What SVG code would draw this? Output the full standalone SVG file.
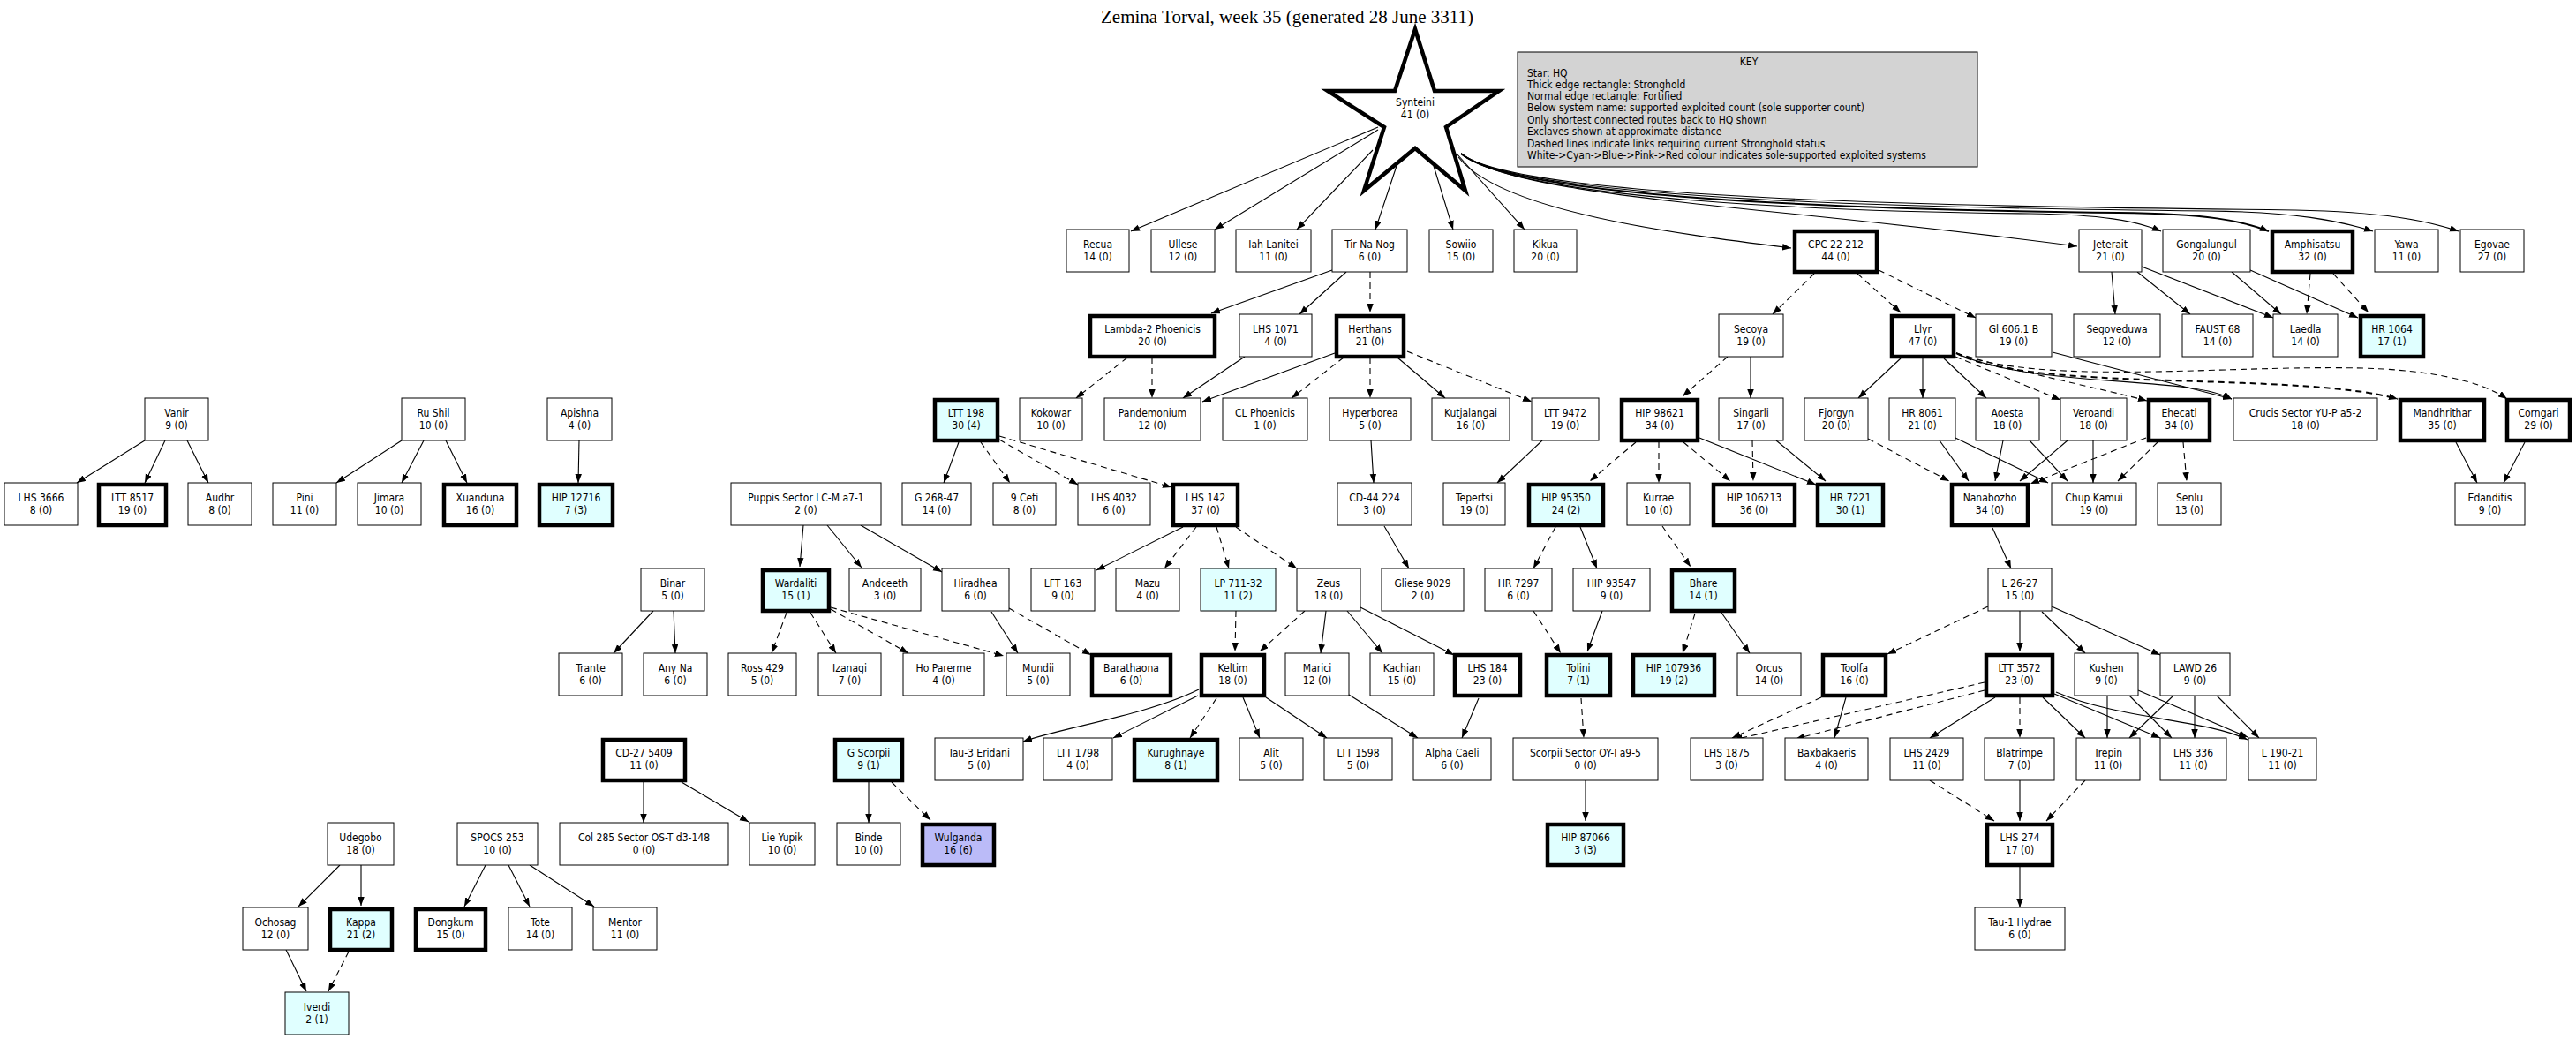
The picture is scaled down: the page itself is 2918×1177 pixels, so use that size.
<svg xmlns="http://www.w3.org/2000/svg" width="2918" height="1177" viewBox="0 0 2918 1177">
<style>
text{font-family:"DejaVu Sans Condensed","DejaVu Sans",sans-serif;font-stretch:condensed;font-size:12px;fill:#000}
.nm{text-anchor:middle}
rect.n{fill:#fff;stroke:#000;stroke-width:1}
rect.t{fill:#fff;stroke:#000;stroke-width:4.5}
rect.c{fill:#e0ffff}
rect.w{fill:#bbbbf8}
#edges line,#edges path{stroke:#000;stroke-width:1.1;fill:none;marker-end:url(#ah)}
#edges .d{stroke-dasharray:7,5}
.title{font-family:"Liberation Serif",serif;font-size:21px;text-anchor:middle;font-stretch:normal}
</style>
<defs>
<marker id="ah" markerUnits="userSpaceOnUse" markerWidth="11" markerHeight="8" refX="10" refY="3.75" orient="auto"><path d="M0,0 L10,3.75 L0,7.5 z" fill="#000"/></marker>
</defs>
<rect width="2918" height="1177" fill="#fff"/>
<text class="title" x="1458" y="26">Zemina Torval, week 35 (generated 28 June 3311)</text>
<g id="key">
<rect x="1719" y="59" width="521" height="130" fill="#d3d3d3" stroke="#000" stroke-width="1"/>
<text class="nm" x="1981" y="74">KEY</text>
<text x="1730" y="87">Star: HQ</text>
<text x="1730" y="100">Thick edge rectangle: Stronghold</text>
<text x="1730" y="113">Normal edge rectangle: Fortified</text>
<text x="1730" y="126">Below system name: supported exploited count (sole supporter count)</text>
<text x="1730" y="140">Only shortest connected routes back to HQ shown</text>
<text x="1730" y="153">Exclaves shown at approximate distance</text>
<text x="1730" y="167">Dashed lines indicate links requiring current Stronghold status</text>
<text x="1730" y="180">White-&gt;Cyan-&gt;Blue-&gt;Pink-&gt;Red colour indicates sole-supported exploited systems</text>
</g>
<g id="edges">
<line x1="1561" y1="144" x2="1281" y2="262"/>
<line x1="1561" y1="147" x2="1376" y2="260"/>
<line x1="1555" y1="170" x2="1469" y2="260"/>
<line x1="1582" y1="188" x2="1558" y2="260"/>
<line x1="1624" y1="188" x2="1646" y2="260"/>
<line x1="1650" y1="174" x2="1727" y2="260"/>
<path d="M1652,178 C1700,240 1900,265 2029,281"/>
<path d="M1655,174 C1720,225 2000,232 2353,279"/>
<path d="M1655,174 C1720,228 2100,240 2300,242 C2380,243 2420,250 2448,262"/>
<path d="M1655,174 C1720,228 2150,238 2400,241 C2500,242 2540,250 2570,262" style="stroke-width:2"/>
<path d="M1655,174 C1720,228 2200,236 2500,239 C2600,240 2650,250 2688,262"/>
<path d="M1655,174 C1720,228 2250,234 2600,238 C2700,240 2750,250 2785,262"/>
<line x1="1509" y1="306" x2="1372" y2="355"/>
<line x1="1525" y1="308" x2="1472" y2="356"/>
<line class="d" x1="1552" y1="308" x2="1552" y2="354"/>
<line class="d" x1="1277" y1="405" x2="1219" y2="451"/>
<line class="d" x1="1305" y1="405" x2="1305" y2="451"/>
<line x1="1410" y1="404" x2="1340" y2="451"/>
<line x1="1512" y1="400" x2="1362" y2="455"/>
<line class="d" x1="1522" y1="405" x2="1463" y2="451"/>
<line class="d" x1="1552" y1="405" x2="1552" y2="451"/>
<line x1="1583" y1="405" x2="1637" y2="451"/>
<line class="d" x1="1594" y1="398" x2="1735" y2="455"/>
<line x1="1086" y1="501" x2="1069" y2="547"/>
<line class="d" x1="1111" y1="501" x2="1144" y2="547"/>
<line class="d" x1="1132" y1="498" x2="1221" y2="549"/>
<line class="d" x1="1132" y1="494" x2="1327" y2="552"/>
<line x1="1553" y1="499" x2="1556" y2="547"/>
<line x1="1747" y1="499" x2="1696" y2="547"/>
<line class="d" x1="2055" y1="310" x2="2008" y2="356"/>
<line class="d" x1="2104" y1="310" x2="2153" y2="354"/>
<line class="d" x1="2128" y1="306" x2="2238" y2="360"/>
<line class="d" x1="1957" y1="404" x2="1906" y2="449"/>
<line x1="1983" y1="404" x2="1983" y2="451"/>
<line class="d" x1="1853" y1="501" x2="1801" y2="545"/>
<line class="d" x1="1879" y1="501" x2="1879" y2="547"/>
<line class="d" x1="1907" y1="501" x2="1960" y2="545"/>
<line x1="1925" y1="496" x2="2057" y2="549"/>
<line class="d" x1="1985" y1="499" x2="1986" y2="545"/>
<line x1="2012" y1="499" x2="2068" y2="545"/>
<line x1="2153" y1="406" x2="2105" y2="451"/>
<line x1="2178" y1="406" x2="2178" y2="451"/>
<line x1="2202" y1="406" x2="2250" y2="451"/>
<line class="d" x1="2215" y1="404" x2="2334" y2="453"/>
<path class="d" d="M2216,400 C2300,425 2380,440 2432,454"/>
<path d="M2216,400 C2300,440 2480,425 2528,452"/>
<path class="d" d="M2216,400 C2300,445 2600,420 2716,452" style="stroke-width:2"/>
<path class="d" d="M2216,400 C2320,440 2550,410 2700,418 C2780,423 2820,438 2840,452"/>
<line x1="2325" y1="399" x2="2528" y2="452"/>
<line x1="2392" y1="308" x2="2396" y2="356"/>
<line x1="2421" y1="308" x2="2481" y2="356"/>
<line x1="2426" y1="302" x2="2575" y2="360"/>
<line x1="2528" y1="308" x2="2584" y2="356"/>
<line x1="2549" y1="306" x2="2671" y2="360"/>
<line class="d" x1="2617" y1="310" x2="2613" y2="356"/>
<line class="d" x1="2643" y1="310" x2="2683" y2="354"/>
<line x1="2782" y1="501" x2="2806" y2="547"/>
<line x1="2860" y1="501" x2="2836" y2="547"/>
<line class="d" x1="2116" y1="497" x2="2208" y2="545"/>
<line x1="2197" y1="499" x2="2230" y2="545"/>
<line x1="2215" y1="496" x2="2320" y2="547"/>
<line x1="2269" y1="499" x2="2260" y2="545"/>
<line x1="2299" y1="499" x2="2342" y2="545"/>
<line x1="2342" y1="499" x2="2288" y2="545"/>
<line x1="2371" y1="499" x2="2371" y2="547"/>
<line class="d" x1="2431" y1="496" x2="2300" y2="548"/>
<line class="d" x1="2444" y1="501" x2="2399" y2="545"/>
<line class="d" x1="2473" y1="501" x2="2477" y2="545"/>
<line x1="2257" y1="598" x2="2278" y2="644"/>
<line class="d" x1="2252" y1="687" x2="2138" y2="741"/>
<line x1="2288" y1="692" x2="2288" y2="738"/>
<line x1="2313" y1="693" x2="2362" y2="740"/>
<line x1="2324" y1="687" x2="2447" y2="742"/>
<line class="d" x1="2063" y1="790" x2="1962" y2="836"/>
<line x1="2091" y1="790" x2="2078" y2="836"/>
<line class="d" x1="2248" y1="773" x2="1964" y2="838"/>
<line class="d" x1="2248" y1="782" x2="2034" y2="837"/>
<line x1="2260" y1="790" x2="2186" y2="836"/>
<line class="d" x1="2288" y1="790" x2="2288" y2="836"/>
<line x1="2314" y1="790" x2="2362" y2="836"/>
<line x1="2327" y1="786" x2="2447" y2="836"/>
<path d="M2329,784 C2400,815 2500,815 2546,838"/>
<line x1="2387" y1="788" x2="2387" y2="836"/>
<line x1="2412" y1="788" x2="2460" y2="836"/>
<line x1="2422" y1="782" x2="2546" y2="835"/>
<line x1="2462" y1="788" x2="2412" y2="836"/>
<line x1="2486" y1="788" x2="2486" y2="836"/>
<line x1="2511" y1="788" x2="2559" y2="836"/>
<line class="d" x1="2186" y1="884" x2="2259" y2="930"/>
<line x1="2288" y1="884" x2="2288" y2="930"/>
<line class="d" x1="2362" y1="884" x2="2318" y2="930"/>
<line x1="2288" y1="982" x2="2288" y2="1028"/>
<line x1="164" y1="499" x2="87" y2="547"/>
<line x1="187" y1="499" x2="164" y2="547"/>
<line x1="212" y1="499" x2="236" y2="547"/>
<line x1="455" y1="499" x2="381" y2="547"/>
<line x1="480" y1="499" x2="455" y2="547"/>
<line x1="505" y1="499" x2="529" y2="547"/>
<line x1="656" y1="499" x2="655" y2="547"/>
<line x1="910" y1="595" x2="906" y2="642"/>
<line x1="937" y1="595" x2="976" y2="643"/>
<line x1="975" y1="595" x2="1067" y2="648"/>
<line class="d" x1="891" y1="694" x2="874" y2="740"/>
<line class="d" x1="918" y1="694" x2="947" y2="740"/>
<line class="d" x1="941" y1="690" x2="1029" y2="740"/>
<line class="d" x1="941" y1="688" x2="1137" y2="743"/>
<line x1="1123" y1="693" x2="1153" y2="740"/>
<line class="d" x1="1143" y1="689" x2="1236" y2="742"/>
<line x1="740" y1="692" x2="695" y2="740"/>
<line x1="763" y1="692" x2="765" y2="740"/>
<line x1="1340" y1="597" x2="1242" y2="646"/>
<line class="d" x1="1355" y1="597" x2="1319" y2="644"/>
<line class="d" x1="1378" y1="597" x2="1392" y2="644"/>
<line class="d" x1="1400" y1="597" x2="1469" y2="644"/>
<line class="d" x1="1400" y1="692" x2="1399" y2="738"/>
<line class="d" x1="1478" y1="692" x2="1427" y2="738"/>
<line x1="1502" y1="692" x2="1496" y2="740"/>
<line x1="1526" y1="692" x2="1566" y2="740"/>
<line x1="1541" y1="688" x2="1647" y2="742"/>
<line x1="1568" y1="596" x2="1596" y2="644"/>
<line class="d" x1="1762" y1="597" x2="1737" y2="644"/>
<line x1="1790" y1="597" x2="1809" y2="644"/>
<line class="d" x1="1883" y1="596" x2="1915" y2="642"/>
<line class="d" x1="1737" y1="692" x2="1768" y2="740"/>
<line x1="1815" y1="692" x2="1798" y2="738"/>
<line class="d" x1="1920" y1="695" x2="1906" y2="740"/>
<line x1="1950" y1="694" x2="1982" y2="740"/>
<path d="M1358,781 C1300,810 1200,825 1159,840"/>
<line x1="1357" y1="788" x2="1261" y2="836"/>
<line class="d" x1="1378" y1="791" x2="1348" y2="836"/>
<line x1="1408" y1="790" x2="1427" y2="836"/>
<line x1="1434" y1="790" x2="1503" y2="836"/>
<line x1="1528" y1="787" x2="1606" y2="836"/>
<line x1="1675" y1="791" x2="1656" y2="836"/>
<line class="d" x1="1791" y1="791" x2="1794" y2="836"/>
<line x1="1796" y1="884" x2="1796" y2="930"/>
<line x1="984" y1="886" x2="984" y2="932"/>
<line class="d" x1="1010" y1="886" x2="1054" y2="929"/>
<line x1="729" y1="886" x2="729" y2="932"/>
<line x1="772" y1="886" x2="848" y2="931"/>
<line x1="385" y1="980" x2="338" y2="1027"/>
<line x1="409" y1="980" x2="409" y2="1026"/>
<line x1="550" y1="980" x2="526" y2="1027"/>
<line x1="576" y1="980" x2="600" y2="1027"/>
<line x1="600" y1="980" x2="673" y2="1027"/>
<line x1="324" y1="1076" x2="347" y2="1123"/>
<line class="d" x1="395" y1="1078" x2="372" y2="1123"/>
</g>
<g id="Synteini"><polygon points="1603,33 1625,103 1698,103 1638,144 1660,216 1603,168 1545,216 1568,144 1504,103 1580,103" fill="#fff" stroke="#000" stroke-width="4.5" stroke-linejoin="miter"/><text class="nm" x="1603" y="120">Synteini</text><text class="nm" x="1603" y="134">41 (0)</text></g>
<g id="Recua"><rect class="n" x="1208" y="260" width="71" height="48"/><text class="nm" x="1243.5" y="280.5">Recua</text><text class="nm" x="1243.5" y="294.5">14 (0)</text></g>
<g id="Ullese"><rect class="n" x="1304" y="260" width="72" height="48"/><text class="nm" x="1340" y="280.5">Ullese</text><text class="nm" x="1340" y="294.5">12 (0)</text></g>
<g id="IahLanitei"><rect class="n" x="1400" y="260" width="85" height="48"/><text class="nm" x="1442.5" y="280.5">Iah Lanitei</text><text class="nm" x="1442.5" y="294.5">11 (0)</text></g>
<g id="TirNaNog"><rect class="n" x="1509" y="260" width="85" height="48"/><text class="nm" x="1551.5" y="280.5">Tir Na Nog</text><text class="nm" x="1551.5" y="294.5">6 (0)</text></g>
<g id="Sowiio"><rect class="n" x="1619" y="260" width="72" height="48"/><text class="nm" x="1655" y="280.5">Sowiio</text><text class="nm" x="1655" y="294.5">15 (0)</text></g>
<g id="Kikua"><rect class="n" x="1715" y="260" width="71" height="48"/><text class="nm" x="1750.5" y="280.5">Kikua</text><text class="nm" x="1750.5" y="294.5">20 (0)</text></g>
<g id="CPC22212"><rect class="t" x="2033" y="262" width="93" height="46"/><text class="nm" x="2079.5" y="280.5">CPC 22 212</text><text class="nm" x="2079.5" y="294.5">44 (0)</text></g>
<g id="Jeterait"><rect class="n" x="2355" y="260" width="71" height="48"/><text class="nm" x="2390.5" y="280.5">Jeterait</text><text class="nm" x="2390.5" y="294.5">21 (0)</text></g>
<g id="Gongalungul"><rect class="n" x="2450" y="260" width="99" height="48"/><text class="nm" x="2499.5" y="280.5">Gongalungul</text><text class="nm" x="2499.5" y="294.5">20 (0)</text></g>
<g id="Amphisatsu"><rect class="t" x="2574" y="262" width="91" height="46"/><text class="nm" x="2619.5" y="280.5">Amphisatsu</text><text class="nm" x="2619.5" y="294.5">32 (0)</text></g>
<g id="Yawa"><rect class="n" x="2690" y="260" width="72" height="48"/><text class="nm" x="2726" y="280.5">Yawa</text><text class="nm" x="2726" y="294.5">11 (0)</text></g>
<g id="Egovae"><rect class="n" x="2787" y="260" width="72" height="48"/><text class="nm" x="2823" y="280.5">Egovae</text><text class="nm" x="2823" y="294.5">27 (0)</text></g>
<g id="Lambda2Phoenicis"><rect class="t" x="1235" y="358" width="141" height="46"/><text class="nm" x="1305.5" y="376.5">Lambda-2 Phoenicis</text><text class="nm" x="1305.5" y="390.5">20 (0)</text></g>
<g id="LHS1071"><rect class="n" x="1404" y="356" width="82" height="48"/><text class="nm" x="1445" y="376.5">LHS 1071</text><text class="nm" x="1445" y="390.5">4 (0)</text></g>
<g id="Herthans"><rect class="t" x="1514" y="358" width="76" height="46"/><text class="nm" x="1552" y="376.5">Herthans</text><text class="nm" x="1552" y="390.5">21 (0)</text></g>
<g id="Secoya"><rect class="n" x="1947" y="356" width="73" height="48"/><text class="nm" x="1983.5" y="376.5">Secoya</text><text class="nm" x="1983.5" y="390.5">19 (0)</text></g>
<g id="Llyr"><rect class="t" x="2143" y="358" width="70" height="46"/><text class="nm" x="2178" y="376.5">Llyr</text><text class="nm" x="2178" y="390.5">47 (0)</text></g>
<g id="Gl6061B"><rect class="n" x="2238" y="356" width="86" height="48"/><text class="nm" x="2281" y="376.5">Gl 606.1 B</text><text class="nm" x="2281" y="390.5">19 (0)</text></g>
<g id="Segoveduwa"><rect class="n" x="2349" y="356" width="98" height="48"/><text class="nm" x="2398" y="376.5">Segoveduwa</text><text class="nm" x="2398" y="390.5">12 (0)</text></g>
<g id="FAUST68"><rect class="n" x="2472" y="356" width="80" height="48"/><text class="nm" x="2512" y="376.5">FAUST 68</text><text class="nm" x="2512" y="390.5">14 (0)</text></g>
<g id="Laedla"><rect class="n" x="2575" y="356" width="73" height="48"/><text class="nm" x="2611.5" y="376.5">Laedla</text><text class="nm" x="2611.5" y="390.5">14 (0)</text></g>
<g id="HR1064"><rect class="t c" x="2674" y="358" width="71" height="46"/><text class="nm" x="2709.5" y="376.5">HR 1064</text><text class="nm" x="2709.5" y="390.5">17 (1)</text></g>
<g id="Vanir"><rect class="n" x="164" y="451" width="72" height="48"/><text class="nm" x="200" y="471.5">Vanir</text><text class="nm" x="200" y="485.5">9 (0)</text></g>
<g id="RuShil"><rect class="n" x="455" y="451" width="72" height="48"/><text class="nm" x="491" y="471.5">Ru Shil</text><text class="nm" x="491" y="485.5">10 (0)</text></g>
<g id="Apishna"><rect class="n" x="620" y="451" width="73" height="48"/><text class="nm" x="656.5" y="471.5">Apishna</text><text class="nm" x="656.5" y="485.5">4 (0)</text></g>
<g id="LTT198"><rect class="t c" x="1059" y="453" width="71" height="46"/><text class="nm" x="1094.5" y="471.5">LTT 198</text><text class="nm" x="1094.5" y="485.5">30 (4)</text></g>
<g id="Kokowar"><rect class="n" x="1155" y="451" width="71" height="48"/><text class="nm" x="1190.5" y="471.5">Kokowar</text><text class="nm" x="1190.5" y="485.5">10 (0)</text></g>
<g id="Pandemonium"><rect class="n" x="1251" y="451" width="109" height="48"/><text class="nm" x="1305.5" y="471.5">Pandemonium</text><text class="nm" x="1305.5" y="485.5">12 (0)</text></g>
<g id="CLPhoenicis"><rect class="n" x="1385" y="451" width="96" height="48"/><text class="nm" x="1433" y="471.5">CL Phoenicis</text><text class="nm" x="1433" y="485.5">1 (0)</text></g>
<g id="Hyperborea"><rect class="n" x="1506" y="451" width="92" height="48"/><text class="nm" x="1552" y="471.5">Hyperborea</text><text class="nm" x="1552" y="485.5">5 (0)</text></g>
<g id="Kutjalangai"><rect class="n" x="1622" y="451" width="88" height="48"/><text class="nm" x="1666" y="471.5">Kutjalangai</text><text class="nm" x="1666" y="485.5">16 (0)</text></g>
<g id="LTT9472"><rect class="n" x="1735" y="451" width="76" height="48"/><text class="nm" x="1773" y="471.5">LTT 9472</text><text class="nm" x="1773" y="485.5">19 (0)</text></g>
<g id="HIP98621"><rect class="t" x="1837" y="453" width="86" height="46"/><text class="nm" x="1880" y="471.5">HIP 98621</text><text class="nm" x="1880" y="485.5">34 (0)</text></g>
<g id="Singarli"><rect class="n" x="1947" y="451" width="73" height="48"/><text class="nm" x="1983.5" y="471.5">Singarli</text><text class="nm" x="1983.5" y="485.5">17 (0)</text></g>
<g id="Fjorgyn"><rect class="n" x="2044" y="451" width="72" height="48"/><text class="nm" x="2080" y="471.5">Fjorgyn</text><text class="nm" x="2080" y="485.5">20 (0)</text></g>
<g id="HR8061"><rect class="n" x="2140" y="451" width="75" height="48"/><text class="nm" x="2177.5" y="471.5">HR 8061</text><text class="nm" x="2177.5" y="485.5">21 (0)</text></g>
<g id="Aoesta"><rect class="n" x="2238" y="451" width="72" height="48"/><text class="nm" x="2274" y="471.5">Aoesta</text><text class="nm" x="2274" y="485.5">18 (0)</text></g>
<g id="Veroandi"><rect class="n" x="2334" y="451" width="75" height="48"/><text class="nm" x="2371.5" y="471.5">Veroandi</text><text class="nm" x="2371.5" y="485.5">18 (0)</text></g>
<g id="Ehecatl"><rect class="t" x="2434" y="453" width="69" height="46"/><text class="nm" x="2468.5" y="471.5">Ehecatl</text><text class="nm" x="2468.5" y="485.5">34 (0)</text></g>
<g id="Crucis"><rect class="n" x="2530" y="451" width="163" height="48"/><text class="nm" x="2611.5" y="471.5">Crucis Sector YU-P a5-2</text><text class="nm" x="2611.5" y="485.5">18 (0)</text></g>
<g id="Mandhrithar"><rect class="t" x="2719" y="453" width="95" height="46"/><text class="nm" x="2766.5" y="471.5">Mandhrithar</text><text class="nm" x="2766.5" y="485.5">35 (0)</text></g>
<g id="Corngari"><rect class="t" x="2840" y="453" width="71" height="46"/><text class="nm" x="2875.5" y="471.5">Corngari</text><text class="nm" x="2875.5" y="485.5">29 (0)</text></g>
<g id="LHS3666"><rect class="n" x="5" y="547" width="83" height="48"/><text class="nm" x="46.5" y="567.5">LHS 3666</text><text class="nm" x="46.5" y="581.5">8 (0)</text></g>
<g id="LTT8517"><rect class="t" x="112" y="549" width="76" height="46"/><text class="nm" x="150" y="567.5">LTT 8517</text><text class="nm" x="150" y="581.5">19 (0)</text></g>
<g id="Audhr"><rect class="n" x="213" y="547" width="72" height="48"/><text class="nm" x="249" y="567.5">Audhr</text><text class="nm" x="249" y="581.5">8 (0)</text></g>
<g id="Pini"><rect class="n" x="309" y="547" width="72" height="48"/><text class="nm" x="345" y="567.5">Pini</text><text class="nm" x="345" y="581.5">11 (0)</text></g>
<g id="Jimara"><rect class="n" x="405" y="547" width="72" height="48"/><text class="nm" x="441" y="567.5">Jimara</text><text class="nm" x="441" y="581.5">10 (0)</text></g>
<g id="Xuanduna"><rect class="t" x="503" y="549" width="82" height="46"/><text class="nm" x="544" y="567.5">Xuanduna</text><text class="nm" x="544" y="581.5">16 (0)</text></g>
<g id="HIP12716"><rect class="t c" x="611" y="549" width="83" height="46"/><text class="nm" x="652.5" y="567.5">HIP 12716</text><text class="nm" x="652.5" y="581.5">7 (3)</text></g>
<g id="Puppis"><rect class="n" x="828" y="547" width="170" height="48"/><text class="nm" x="913" y="567.5">Puppis Sector LC-M a7-1</text><text class="nm" x="913" y="581.5">2 (0)</text></g>
<g id="G26847"><rect class="n" x="1022" y="547" width="78" height="48"/><text class="nm" x="1061" y="567.5">G 268-47</text><text class="nm" x="1061" y="581.5">14 (0)</text></g>
<g id="NineCeti"><rect class="n" x="1125" y="547" width="71" height="48"/><text class="nm" x="1160.5" y="567.5">9 Ceti</text><text class="nm" x="1160.5" y="581.5">8 (0)</text></g>
<g id="LHS4032"><rect class="n" x="1221" y="547" width="82" height="48"/><text class="nm" x="1262" y="567.5">LHS 4032</text><text class="nm" x="1262" y="581.5">6 (0)</text></g>
<g id="LHS142"><rect class="t" x="1329" y="549" width="73" height="46"/><text class="nm" x="1365.5" y="567.5">LHS 142</text><text class="nm" x="1365.5" y="581.5">37 (0)</text></g>
<g id="CD44224"><rect class="n" x="1515" y="547" width="84" height="48"/><text class="nm" x="1557" y="567.5">CD-44 224</text><text class="nm" x="1557" y="581.5">3 (0)</text></g>
<g id="Tepertsi"><rect class="n" x="1635" y="547" width="70" height="48"/><text class="nm" x="1670" y="567.5">Tepertsi</text><text class="nm" x="1670" y="581.5">19 (0)</text></g>
<g id="HIP95350"><rect class="t c" x="1732" y="549" width="84" height="46"/><text class="nm" x="1774" y="567.5">HIP 95350</text><text class="nm" x="1774" y="581.5">24 (2)</text></g>
<g id="Kurrae"><rect class="n" x="1843" y="547" width="71" height="48"/><text class="nm" x="1878.5" y="567.5">Kurrae</text><text class="nm" x="1878.5" y="581.5">10 (0)</text></g>
<g id="HIP106213"><rect class="t" x="1941" y="549" width="92" height="46"/><text class="nm" x="1987" y="567.5">HIP 106213</text><text class="nm" x="1987" y="581.5">36 (0)</text></g>
<g id="HR7221"><rect class="t c" x="2059" y="549" width="74" height="46"/><text class="nm" x="2096" y="567.5">HR 7221</text><text class="nm" x="2096" y="581.5">30 (1)</text></g>
<g id="Nanabozho"><rect class="t" x="2211" y="549" width="86" height="46"/><text class="nm" x="2254" y="567.5">Nanabozho</text><text class="nm" x="2254" y="581.5">34 (0)</text></g>
<g id="ChupKamui"><rect class="n" x="2324" y="547" width="96" height="48"/><text class="nm" x="2372" y="567.5">Chup Kamui</text><text class="nm" x="2372" y="581.5">19 (0)</text></g>
<g id="Senlu"><rect class="n" x="2444" y="547" width="72" height="48"/><text class="nm" x="2480" y="567.5">Senlu</text><text class="nm" x="2480" y="581.5">13 (0)</text></g>
<g id="Edanditis"><rect class="n" x="2781" y="547" width="79" height="48"/><text class="nm" x="2820.5" y="567.5">Edanditis</text><text class="nm" x="2820.5" y="581.5">9 (0)</text></g>
<g id="Binar"><rect class="n" x="726" y="644" width="72" height="48"/><text class="nm" x="762" y="664.5">Binar</text><text class="nm" x="762" y="678.5">5 (0)</text></g>
<g id="Wardaliti"><rect class="t c" x="864" y="646" width="75" height="46"/><text class="nm" x="901.5" y="664.5">Wardaliti</text><text class="nm" x="901.5" y="678.5">15 (1)</text></g>
<g id="Andceeth"><rect class="n" x="962" y="644" width="81" height="48"/><text class="nm" x="1002.5" y="664.5">Andceeth</text><text class="nm" x="1002.5" y="678.5">3 (0)</text></g>
<g id="Hiradhea"><rect class="n" x="1067" y="644" width="76" height="48"/><text class="nm" x="1105" y="664.5">Hiradhea</text><text class="nm" x="1105" y="678.5">6 (0)</text></g>
<g id="LFT163"><rect class="n" x="1168" y="644" width="72" height="48"/><text class="nm" x="1204" y="664.5">LFT 163</text><text class="nm" x="1204" y="678.5">9 (0)</text></g>
<g id="Mazu"><rect class="n" x="1264" y="644" width="72" height="48"/><text class="nm" x="1300" y="664.5">Mazu</text><text class="nm" x="1300" y="678.5">4 (0)</text></g>
<g id="LP71132"><rect class="n c" x="1360" y="644" width="85" height="48"/><text class="nm" x="1402.5" y="664.5">LP 711-32</text><text class="nm" x="1402.5" y="678.5">11 (2)</text></g>
<g id="Zeus"><rect class="n" x="1469" y="644" width="72" height="48"/><text class="nm" x="1505" y="664.5">Zeus</text><text class="nm" x="1505" y="678.5">18 (0)</text></g>
<g id="Gliese9029"><rect class="n" x="1565" y="644" width="93" height="48"/><text class="nm" x="1611.5" y="664.5">Gliese 9029</text><text class="nm" x="1611.5" y="678.5">2 (0)</text></g>
<g id="HR7297"><rect class="n" x="1682" y="644" width="76" height="48"/><text class="nm" x="1720" y="664.5">HR 7297</text><text class="nm" x="1720" y="678.5">6 (0)</text></g>
<g id="HIP93547"><rect class="n" x="1782" y="644" width="87" height="48"/><text class="nm" x="1825.5" y="664.5">HIP 93547</text><text class="nm" x="1825.5" y="678.5">9 (0)</text></g>
<g id="Bhare"><rect class="t c" x="1894" y="646" width="71" height="46"/><text class="nm" x="1929.5" y="664.5">Bhare</text><text class="nm" x="1929.5" y="678.5">14 (1)</text></g>
<g id="L2627"><rect class="n" x="2252" y="644" width="72" height="48"/><text class="nm" x="2288" y="664.5">L 26-27</text><text class="nm" x="2288" y="678.5">15 (0)</text></g>
<g id="Trante"><rect class="n" x="633" y="740" width="72" height="48"/><text class="nm" x="669" y="760.5">Trante</text><text class="nm" x="669" y="774.5">6 (0)</text></g>
<g id="AnyNa"><rect class="n" x="729" y="740" width="72" height="48"/><text class="nm" x="765" y="760.5">Any Na</text><text class="nm" x="765" y="774.5">6 (0)</text></g>
<g id="Ross429"><rect class="n" x="825" y="740" width="77" height="48"/><text class="nm" x="863.5" y="760.5">Ross 429</text><text class="nm" x="863.5" y="774.5">5 (0)</text></g>
<g id="Izanagi"><rect class="n" x="927" y="740" width="71" height="48"/><text class="nm" x="962.5" y="760.5">Izanagi</text><text class="nm" x="962.5" y="774.5">7 (0)</text></g>
<g id="HoParerme"><rect class="n" x="1023" y="740" width="92" height="48"/><text class="nm" x="1069" y="760.5">Ho Parerme</text><text class="nm" x="1069" y="774.5">4 (0)</text></g>
<g id="Mundii"><rect class="n" x="1140" y="740" width="72" height="48"/><text class="nm" x="1176" y="760.5">Mundii</text><text class="nm" x="1176" y="774.5">5 (0)</text></g>
<g id="Barathaona"><rect class="t" x="1237" y="742" width="89" height="46"/><text class="nm" x="1281.5" y="760.5">Barathaona</text><text class="nm" x="1281.5" y="774.5">6 (0)</text></g>
<g id="Keltim"><rect class="t" x="1361" y="742" width="71" height="46"/><text class="nm" x="1396.5" y="760.5">Keltim</text><text class="nm" x="1396.5" y="774.5">18 (0)</text></g>
<g id="Marici"><rect class="n" x="1456" y="740" width="72" height="48"/><text class="nm" x="1492" y="760.5">Marici</text><text class="nm" x="1492" y="774.5">12 (0)</text></g>
<g id="Kachian"><rect class="n" x="1552" y="740" width="72" height="48"/><text class="nm" x="1588" y="760.5">Kachian</text><text class="nm" x="1588" y="774.5">15 (0)</text></g>
<g id="LHS184"><rect class="t" x="1648" y="742" width="74" height="46"/><text class="nm" x="1685" y="760.5">LHS 184</text><text class="nm" x="1685" y="774.5">23 (0)</text></g>
<g id="Tolini"><rect class="t c" x="1752" y="742" width="72" height="46"/><text class="nm" x="1788" y="760.5">Tolini</text><text class="nm" x="1788" y="774.5">7 (1)</text></g>
<g id="HIP107936"><rect class="t c" x="1850" y="742" width="92" height="46"/><text class="nm" x="1896" y="760.5">HIP 107936</text><text class="nm" x="1896" y="774.5">19 (2)</text></g>
<g id="Orcus"><rect class="n" x="1968" y="740" width="72" height="48"/><text class="nm" x="2004" y="760.5">Orcus</text><text class="nm" x="2004" y="774.5">14 (0)</text></g>
<g id="Toolfa"><rect class="t" x="2065" y="742" width="71" height="46"/><text class="nm" x="2100.5" y="760.5">Toolfa</text><text class="nm" x="2100.5" y="774.5">16 (0)</text></g>
<g id="LTT3572"><rect class="t" x="2250" y="742" width="75" height="46"/><text class="nm" x="2287.5" y="760.5">LTT 3572</text><text class="nm" x="2287.5" y="774.5">23 (0)</text></g>
<g id="Kushen"><rect class="n" x="2350" y="740" width="72" height="48"/><text class="nm" x="2386" y="760.5">Kushen</text><text class="nm" x="2386" y="774.5">9 (0)</text></g>
<g id="LAWD26"><rect class="n" x="2447" y="740" width="79" height="48"/><text class="nm" x="2486.5" y="760.5">LAWD 26</text><text class="nm" x="2486.5" y="774.5">9 (0)</text></g>
<g id="CD275409"><rect class="t" x="683" y="838" width="93" height="46"/><text class="nm" x="729.5" y="856.5">CD-27 5409</text><text class="nm" x="729.5" y="870.5">11 (0)</text></g>
<g id="GScorpii"><rect class="t c" x="946" y="838" width="76" height="46"/><text class="nm" x="984" y="856.5">G Scorpii</text><text class="nm" x="984" y="870.5">9 (1)</text></g>
<g id="Tau3Eridani"><rect class="n" x="1059" y="836" width="100" height="48"/><text class="nm" x="1109" y="856.5">Tau-3 Eridani</text><text class="nm" x="1109" y="870.5">5 (0)</text></g>
<g id="LTT1798"><rect class="n" x="1182" y="836" width="78" height="48"/><text class="nm" x="1221" y="856.5">LTT 1798</text><text class="nm" x="1221" y="870.5">4 (0)</text></g>
<g id="Kurughnaye"><rect class="t c" x="1285" y="838" width="94" height="46"/><text class="nm" x="1332" y="856.5">Kurughnaye</text><text class="nm" x="1332" y="870.5">8 (1)</text></g>
<g id="Alit"><rect class="n" x="1404" y="836" width="72" height="48"/><text class="nm" x="1440" y="856.5">Alit</text><text class="nm" x="1440" y="870.5">5 (0)</text></g>
<g id="LTT1598"><rect class="n" x="1500" y="836" width="77" height="48"/><text class="nm" x="1538.5" y="856.5">LTT 1598</text><text class="nm" x="1538.5" y="870.5">5 (0)</text></g>
<g id="AlphaCaeli"><rect class="n" x="1601" y="836" width="88" height="48"/><text class="nm" x="1645" y="856.5">Alpha Caeli</text><text class="nm" x="1645" y="870.5">6 (0)</text></g>
<g id="ScorpiiSector"><rect class="n" x="1714" y="836" width="164" height="48"/><text class="nm" x="1796" y="856.5">Scorpii Sector OY-I a9-5</text><text class="nm" x="1796" y="870.5">0 (0)</text></g>
<g id="LHS1875"><rect class="n" x="1915" y="836" width="82" height="48"/><text class="nm" x="1956" y="856.5">LHS 1875</text><text class="nm" x="1956" y="870.5">3 (0)</text></g>
<g id="Baxbakaeris"><rect class="n" x="2022" y="836" width="94" height="48"/><text class="nm" x="2069" y="856.5">Baxbakaeris</text><text class="nm" x="2069" y="870.5">4 (0)</text></g>
<g id="LHS2429"><rect class="n" x="2141" y="836" width="83" height="48"/><text class="nm" x="2182.5" y="856.5">LHS 2429</text><text class="nm" x="2182.5" y="870.5">11 (0)</text></g>
<g id="Blatrimpe"><rect class="n" x="2248" y="836" width="79" height="48"/><text class="nm" x="2287.5" y="856.5">Blatrimpe</text><text class="nm" x="2287.5" y="870.5">7 (0)</text></g>
<g id="Trepin"><rect class="n" x="2352" y="836" width="72" height="48"/><text class="nm" x="2388" y="856.5">Trepin</text><text class="nm" x="2388" y="870.5">11 (0)</text></g>
<g id="LHS336"><rect class="n" x="2447" y="836" width="75" height="48"/><text class="nm" x="2484.5" y="856.5">LHS 336</text><text class="nm" x="2484.5" y="870.5">11 (0)</text></g>
<g id="L19021"><rect class="n" x="2547" y="836" width="77" height="48"/><text class="nm" x="2585.5" y="856.5">L 190-21</text><text class="nm" x="2585.5" y="870.5">11 (0)</text></g>
<g id="Udegobo"><rect class="n" x="371" y="932" width="75" height="48"/><text class="nm" x="408.5" y="952.5">Udegobo</text><text class="nm" x="408.5" y="966.5">18 (0)</text></g>
<g id="SPOCS253"><rect class="n" x="518" y="932" width="91" height="48"/><text class="nm" x="563.5" y="952.5">SPOCS 253</text><text class="nm" x="563.5" y="966.5">10 (0)</text></g>
<g id="Col285"><rect class="n" x="634" y="932" width="191" height="48"/><text class="nm" x="729.5" y="952.5">Col 285 Sector OS-T d3-148</text><text class="nm" x="729.5" y="966.5">0 (0)</text></g>
<g id="LieYupik"><rect class="n" x="849" y="932" width="74" height="48"/><text class="nm" x="886" y="952.5">Lie Yupik</text><text class="nm" x="886" y="966.5">10 (0)</text></g>
<g id="Binde"><rect class="n" x="948" y="932" width="72" height="48"/><text class="nm" x="984" y="952.5">Binde</text><text class="nm" x="984" y="966.5">10 (0)</text></g>
<g id="Wulganda"><rect class="t w" x="1045" y="934" width="81" height="46"/><text class="nm" x="1085.5" y="952.5">Wulganda</text><text class="nm" x="1085.5" y="966.5">16 (6)</text></g>
<g id="HIP87066"><rect class="t c" x="1753" y="934" width="86" height="46"/><text class="nm" x="1796" y="952.5">HIP 87066</text><text class="nm" x="1796" y="966.5">3 (3)</text></g>
<g id="LHS274"><rect class="t" x="2251" y="934" width="74" height="46"/><text class="nm" x="2288" y="952.5">LHS 274</text><text class="nm" x="2288" y="966.5">17 (0)</text></g>
<g id="Ochosag"><rect class="n" x="275" y="1028" width="74" height="48"/><text class="nm" x="312" y="1048.5">Ochosag</text><text class="nm" x="312" y="1062.5">12 (0)</text></g>
<g id="Kappa"><rect class="t c" x="374" y="1030" width="70" height="46"/><text class="nm" x="409" y="1048.5">Kappa</text><text class="nm" x="409" y="1062.5">21 (2)</text></g>
<g id="Dongkum"><rect class="t" x="471" y="1030" width="79" height="46"/><text class="nm" x="510.5" y="1048.5">Dongkum</text><text class="nm" x="510.5" y="1062.5">15 (0)</text></g>
<g id="Tote"><rect class="n" x="576" y="1028" width="72" height="48"/><text class="nm" x="612" y="1048.5">Tote</text><text class="nm" x="612" y="1062.5">14 (0)</text></g>
<g id="Mentor"><rect class="n" x="672" y="1028" width="72" height="48"/><text class="nm" x="708" y="1048.5">Mentor</text><text class="nm" x="708" y="1062.5">11 (0)</text></g>
<g id="Tau1Hydrae"><rect class="n" x="2237" y="1028" width="102" height="48"/><text class="nm" x="2288" y="1048.5">Tau-1 Hydrae</text><text class="nm" x="2288" y="1062.5">6 (0)</text></g>
<g id="Iverdi"><rect class="n c" x="323" y="1124" width="72" height="48"/><text class="nm" x="359" y="1144.5">Iverdi</text><text class="nm" x="359" y="1158.5">2 (1)</text></g>
</svg>
